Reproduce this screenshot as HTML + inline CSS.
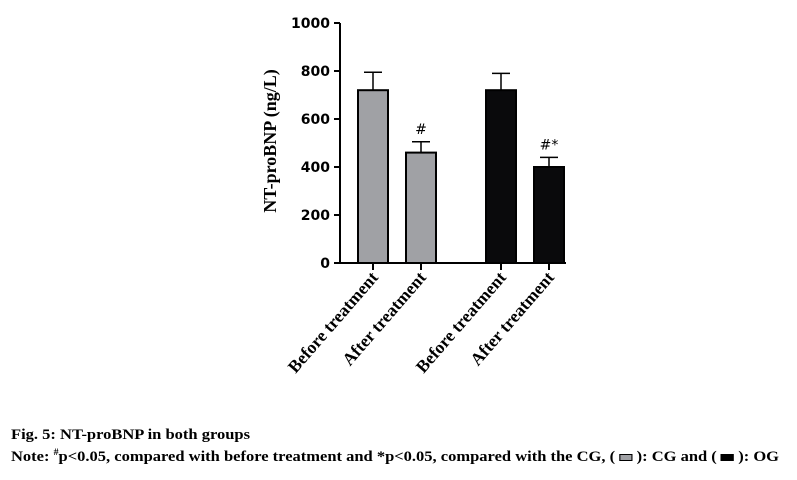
<!DOCTYPE html>
<html><head><meta charset="utf-8"><style>
body{margin:0;width:797px;height:480px;background:#fff;overflow:hidden;position:relative}
svg{position:absolute;left:0;top:0}
.cap{position:absolute;left:11px;font-family:"Liberation Serif",serif;font-weight:bold;font-size:15px;white-space:nowrap;transform:scaleX(1.1);transform-origin:0 0}
</style></head><body>
<svg id="chart" width="797" height="420"></svg>
<div class="cap" style="top:427px">Fig. 5: NT-proBNP in both groups</div>
<div class="cap" style="top:447px">Note: <sup style="font-size:9px">#</sup>p&lt;0.05, compared with before treatment and *p&lt;0.05, compared with the CG, ( <span style="display:inline-block;width:10px;height:5px;background:#a0a1a5;border:1px solid #000;vertical-align:middle"></span> ): CG and ( <span style="display:inline-block;width:10px;height:5px;background:#000;border:1px solid #000;vertical-align:middle"></span> ): OG</div>
<script>
const categories=["Before treatment","After treatment","Before treatment","After treatment"];
const values=[720,460,720,400];
const errors=[75,45,70,40];
const marks=["","#","","#*"];
const colors=["#a0a1a5","#a0a1a5","#0a0a0c","#0a0a0c"];
const ticks=[0,200,400,600,800,1000];
const NS="http://www.w3.org/2000/svg";
const svg=document.getElementById('chart');
const y=v=>263-v*0.24;
const centers=[373,421,501,549];
const bw=30;
function mk(t,a){const e=document.createElementNS(NS,t);for(const k in a)e.setAttribute(k,a[k]);svg.appendChild(e);return e;}
let ax=mk('line',{x1:340,y1:y(0),x2:340,y2:y(1000),stroke:'#000','stroke-width':2});


let xa=mk('line',{x1:339,y1:y(0),x2:566,y2:y(0),stroke:'#000','stroke-width':2});


ticks.forEach(t=>{
 let l=mk('line',{x1:334,y1:y(t),x2:340,y2:y(t),stroke:'#000','stroke-width':2});
 
 
 let tx=mk('text',{x:330,y:y(t)+5,'text-anchor':'end','font-family':'DejaVu Sans, sans-serif','font-weight':'bold','font-size':'14'});
 tx.textContent=t;
 
 
});
let yt=mk('text',{x:0,y:0,transform:'translate(276,141) rotate(-90)','text-anchor':'middle','font-family':'Liberation Serif, serif','font-weight':'bold','font-size':'18'});
yt.textContent='NT-proBNP (ng/L)';


values.forEach((v,i)=>{
 const cx=centers[i];
 let eb=mk('path',{d:`M${cx} ${y(v)} V${y(v+errors[i])} M${cx-9} ${y(v+errors[i])} H${cx+9}`,stroke:'#000','stroke-width':1.5,fill:'none'});
 
 
 let r=mk('rect',{x:cx-bw/2,y:y(v),width:bw,height:y(0)-y(v),fill:colors[i],stroke:'#000','stroke-width':2});
 
 
 if(marks[i]){let m=mk('text',{x:cx,y:y(v+errors[i])-8,'text-anchor':'middle','font-family':'DejaVu Sans, sans-serif','font-size':'14'});
 m.textContent=marks[i];
 
 }
 let tk=mk('line',{x1:cx,y1:y(0),x2:cx,y2:y(0)+7,stroke:'#000','stroke-width':2});
 
 
 let lb=mk('text',{x:0,y:0,transform:`translate(${cx+6},${y(0)+15}) rotate(-49)`,'text-anchor':'end','font-family':'Liberation Serif, serif','font-weight':'bold','font-size':'17.5'});
 lb.textContent=categories[i];
 
 
});
</script>
</body></html>
